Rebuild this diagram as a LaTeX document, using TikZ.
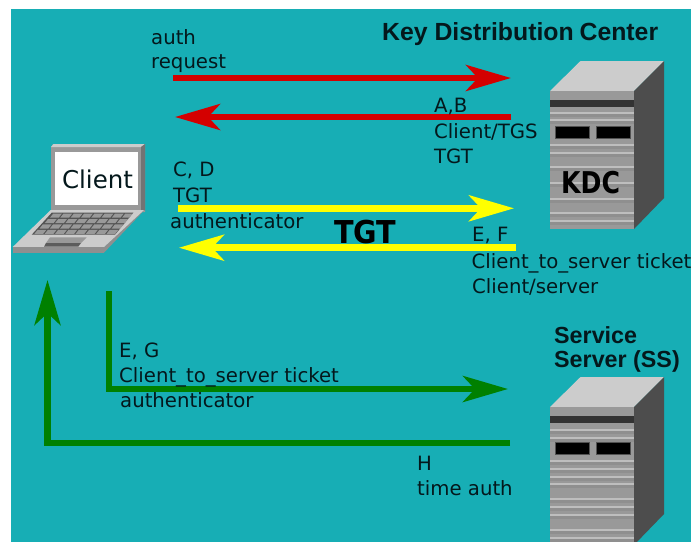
\documentclass[tikz,border=0pt]{standalone}
\usepackage{fontspec}
\setmainfont{DejaVu Sans}
\newfontfamily\arialish{Liberation Sans}
\usetikzlibrary{arrows.meta}
\definecolor{bgteal}{HTML}{17AEB5}
\definecolor{inkd}{HTML}{04181C}
\definecolor{redarr}{HTML}{D40000}
\definecolor{yelarr}{HTML}{FFFF00}
\definecolor{grnarr}{HTML}{008000}
\definecolor{srvfront}{HTML}{999999}
\definecolor{srvtop}{HTML}{CCCCCC}
\definecolor{srvside}{HTML}{4D4D4D}
\definecolor{srvbar}{HTML}{333333}
\definecolor{srvlight}{HTML}{BEBEBE}
\definecolor{srvdark}{HTML}{8F8F8F}
\tikzset{
  x=1pt,y=-1pt,
  lbl/.style={anchor=base west,inner sep=0pt,text=inkd,font=\fontsize{19.7}{22}\selectfont},
  bold/.style={anchor=base west,inner sep=0pt,text=black,font=\bfseries\fontsize{#1}{22}\selectfont},
  head/.style={anchor=base west,inner sep=0pt,text=inkd,font=\arialish\bfseries\fontsize{#1}{22}\selectfont},
  flow/.style={line width=6.5pt,line join=miter,-{Stealth[length=45pt,width=26pt,inset=12pt]}},
}
\newcommand{\srvline}[3]{%
  \fill[srvdark] (550,#2+0.7) rectangle (634,#2+3.5);
  \fill[srvlight] (550,#2-0.7) rectangle (634,#2+0.7);}
\newcommand{\srvbody}[2]{%
  \fill[srvtop] (550,#1) -- (580.5,#1-30) -- (664,#1-30) -- (634,#1) -- cycle;
  \fill[srvside] (634,#1) -- (664,#1-30) -- (664,#1+107) -- (634,#1+138) -- cycle;
  \fill[srvfront] (550,#1) rectangle (634,#1+138);
  \fill[srvbar] (550,#1+8.5) rectangle (634,#1+16);
  \foreach \ly in {#2}{\srvline{0}{\ly}{0}}
  \fill[black,draw=srvbar!70!srvfront,line width=1pt] (555.5,#1+35.5) rectangle (589.5,#1+47);
  \fill[black,draw=srvbar!70!srvfront,line width=1pt] (596.5,#1+35.5) rectangle (630.5,#1+47);
}
\begin{document}
\begin{tikzpicture}
\useasboundingbox (0,0) rectangle (691,542);
\fill[white] (0,0) rectangle (691,542);
\fill[bgteal] (11,9) rectangle (691,542);

% KDC server
\srvbody{91}{113,120,145,153,167,183,199,213,221}
% Service server
\begin{scope}
\clip (0,0) rectangle (691,541);
\srvbody{407}{430,438,461,469,477,484,499,507,515,530,538}
\end{scope}

% Laptop
\fill[srvfront] (53,144) -- (145,144) -- (145,212) -- (51,212) -- (51,147) -- cycle;
\fill[srvtop] (51,147) -- (53.5,144) -- (145,144) -- (141,147) -- cycle;
\fill[srvfront!75!black] (141,147) -- (145,144) -- (145,210) -- (141,212) -- cycle;
\fill[white] (55,151.5) rectangle (138,205);
\fill[srvdark] (144.5,210) -- (104,252.7) -- (104,247) -- (140,210) -- cycle;
\fill[srvtop] (50.7,210) -- (144,210) -- (104,247) -- (12.7,247) -- cycle;
\fill[srvdark] (12.7,247) rectangle (104,252.7);
\fill[srvfront!55!black] (51.7,212.7) -- (133.3,212.7) -- (115,234.7) -- (31.7,234.7) -- cycle;
\begin{scope}
\clip (51.7,212.7) -- (133.3,212.7) -- (115,234.7) -- (31.7,234.7) -- cycle;
\foreach \r in {0,1,2,3}{
  \foreach \c in {0,...,7}{
    \fill[srvfront] ({53.2-\r*5.2+\c*10.3},{213.6+\r*5.4}) -- ++(8.7,0) -- ++(-3.2,4.1) -- ++(-8.7,0) -- cycle;
  }
}
\end{scope}
\fill[srvfront] (50,237.3) -- (86.7,237.3) -- (81,243) -- (46,243) -- cycle;
\fill[srvfront!60!black] (46,243) -- (81,243) -- (78.3,246.7) -- (44,246.7) -- cycle;
\node[inner sep=0pt,text=inkd,font=\fontsize{24.5}{26}\selectfont] (clientlbl) at (97.5,179) {Client};

% Connector end points
\coordinate (r1a) at (173,78);   \coordinate (r1b) at (511,78);
\coordinate (r2a) at (511,117);  \coordinate (r2b) at (175,117);
\coordinate (y1a) at (178,208.3);  \coordinate (y1b) at (514,208.3);
\coordinate (y2a) at (516,247.7);  \coordinate (y2b) at (179,247.7);
\coordinate (g1a) at (109,291);  \coordinate (g1c) at (109,389); \coordinate (g1b) at (508,389);
\coordinate (g2a) at (510,443);  \coordinate (g2c) at (47.5,443);  \coordinate (g2b) at (47.5,280);

\draw[flow,redarr] (r1a) -- (r1b);
\draw[flow,redarr] (r2a) -- (r2b);
\draw[flow,yelarr] (y1a) -- (y1b);
\draw[flow,yelarr] (y2a) -- (y2b);
\draw[flow,grnarr] (g1a) -- (g1c) -- (g1b);
\draw[flow,grnarr] (g2a) -- (g2c) -- (g2b);

% Labels
\node[head=24.8] (kdctitle) at (382,40) {Key Distribution\hspace{-1pt} Center};
\node[lbl] (l1) at (151,44) {auth};
\node[lbl] (l2) at (151,68) {request};
\node[lbl] (l3) at (434,112) {A,B};
\node[lbl] (l4) at (434,138) {Client/TGS};
\node[lbl] (l5) at (434,163) {TGT};
\node[lbl] (l6) at (173,176) {C, D};
\node[lbl] (l7) at (173,202) {TGT};
\node[lbl] (l8) at (170,228) {authenticator};
\node[bold=31.5,xscale=0.91] (tgt) at (334,243) {TGT};
\node[bold=30,xscale=0.84] (kdc) at (561,193) {KDC};
\node[lbl] (l9) at (472,241) {E, F};
\node[lbl] (l10) at (471.5,268) {Client\_to\_server ticket};
\node[lbl] (l11) at (472,293) {Client/server};
\node[head=23.3] (ss1) at (554,343) {Service};
\node[head=23.3] (ss2) at (554,367) {Server (SS)};
\node[lbl] (l12) at (119,357) {E, G};
\node[lbl] (l13) at (119,382) {Client\_to\_server ticket};
\node[lbl] (l14) at (120,407) {authenticator};
\node[lbl] (l15) at (417,470) {H};
\node[lbl] (l16) at (417,495) {time auth};
\end{tikzpicture}
\end{document}
